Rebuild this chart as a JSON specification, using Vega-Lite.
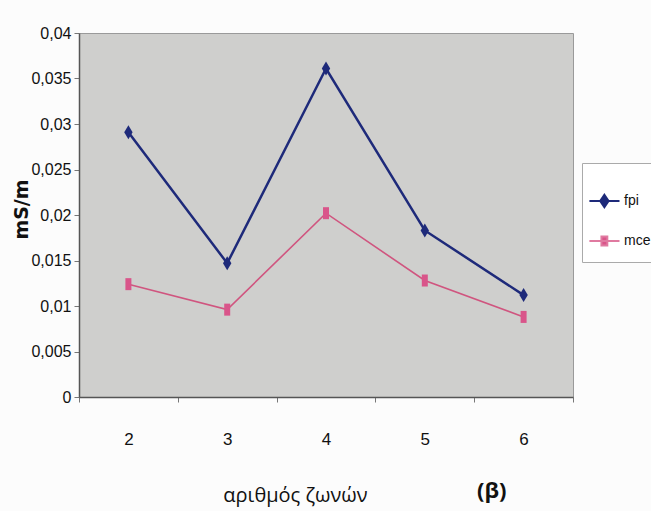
{
  "$schema": "https://vega.github.io/schema/vega-lite/v6.json",
  "width": 494,
  "height": 364,
  "autosize": {"type": "none"},
  "padding": {"left": 79, "top": 33, "right": 78, "bottom": 114},
  "background": "#fcfcfc",
  "title": {
    "text": "(β)",
    "orient": "bottom",
    "anchor": "start",
    "frame": "group",
    "dx": 398,
    "offset": -24,
    "font": "Open Sans",
    "fontSize": 22,
    "fontWeight": "bold",
    "color": "#111"
  },
  "config": {
    "view": {"fill": "#cfcfcd", "stroke": "#9a9a9a", "strokeWidth": 1},
    "axis": {"grid": false}
  },
  "data": {
    "values": [
      {"zones": "2", "series": "fpi", "value": 0.0291},
      {"zones": "3", "series": "fpi", "value": 0.0147},
      {"zones": "4", "series": "fpi", "value": 0.0361},
      {"zones": "5", "series": "fpi", "value": 0.0183},
      {"zones": "6", "series": "fpi", "value": 0.0112},
      {"zones": "2", "series": "mce", "value": 0.0124},
      {"zones": "3", "series": "mce", "value": 0.0096},
      {"zones": "4", "series": "mce", "value": 0.0202},
      {"zones": "5", "series": "mce", "value": 0.0128},
      {"zones": "6", "series": "mce", "value": 0.0088}
    ]
  },
  "encoding": {
    "x": {
      "field": "zones",
      "type": "ordinal",
      "scale": {"type": "band", "paddingInner": 0, "paddingOuter": 0},
      "axis": {
        "title": "αριθμός ζωνών",
        "titleFont": "Open Sans",
        "titleFontSize": 20,
        "titleFontWeight": "normal",
        "titleColor": "#111",
        "titleX": 216,
        "titleY": 104,
        "titleBaseline": "alphabetic",
        "titleAlign": "center",
        "tickBand": "extent",
        "labelAngle": 0,
        "labelFont": "Liberation Sans",
        "labelFontSize": 17,
        "labelColor": "#111",
        "labelPadding": 29,
        "tickSize": 5,
        "tickColor": "#777",
        "domainColor": "#555",
        "domainWidth": 1.5
      }
    },
    "y": {
      "field": "value",
      "type": "quantitative",
      "scale": {"domain": [0, 0.04], "nice": false},
      "axis": {
        "values": [0, 0.005, 0.01, 0.015, 0.02, 0.025, 0.03, 0.035, 0.04],
        "labelExpr": "replace(format(datum.value, '.3~f'), '.', ',')",
        "title": "mS/m",
        "titleFont": "DejaVu Sans",
        "titleFontSize": 19,
        "titleFontWeight": "bold",
        "titleColor": "#111",
        "titleX": -58,
        "titleY": 176,
        "titleAngle": -90,
        "titleAlign": "center",
        "titleBaseline": "middle",
        "labelFont": "Liberation Sans",
        "labelFontSize": 16,
        "labelColor": "#111",
        "labelPadding": 3,
        "tickSize": 5,
        "tickColor": "#777",
        "domainColor": "#555",
        "domainWidth": 1.5
      }
    }
  },
  "layer": [
    {
      "transform": [{"filter": "datum.series === 'fpi'"}],
      "mark": {"type": "line", "color": "#1e2a7a", "strokeWidth": 2.5}
    },
    {
      "transform": [{"filter": "datum.series === 'mce'"}],
      "mark": {"type": "line", "color": "#d0557f", "strokeWidth": 1.6}
    },
    {
      "transform": [{"filter": "datum.series === 'fpi'"}],
      "mark": {"type": "point", "filled": true, "opacity": 1, "color": "#1e2a7a", "shape": "M0,-1L0.6,0L0,1L-0.6,0Z", "size": 196}
    },
    {
      "transform": [{"filter": "datum.series === 'mce'"}],
      "mark": {"type": "point", "filled": true, "opacity": 1, "color": "#d9558a", "shape": "M-0.5,-1H0.5V1H-0.5Z", "size": 144}
    },
    {
      "transform": [{"filter": "false"}],
      "mark": {"type": "point", "filled": true, "opacity": 1, "strokeWidth": 2},
      "encoding": {
        "color": {
          "field": "series",
          "type": "nominal",
          "scale": {"domain": ["fpi", "mce"], "range": ["#1e2a7a", "#d9558a"]},
          "legend": {
            "orient": "none",
            "legendX": 503,
            "legendY": 130,
            "title": " ",
            "titleFontSize": 8,
            "titlePadding": 3,
            "padding": 12,
            "fillColor": "#ffffff",
            "strokeColor": "#aaaaaa",
            "symbolSize": 784,
            "symbolStrokeWidth": 2,
            "rowPadding": 14,
            "labelOffset": 0,
            "labelFont": "Liberation Sans",
            "labelFontSize": 14,
            "labelColor": "#111"
          }
        },
        "stroke": {
          "field": "series",
          "type": "nominal",
          "scale": {"domain": ["fpi", "mce"], "range": ["#1e2a7a", "#e07aa0"]}
        },
        "shape": {
          "field": "series",
          "type": "nominal",
          "scale": {
            "domain": ["fpi", "mce"],
            "range": [
              "M-1.4,0H0.75M-0.33,-0.45L-0.03,0L-0.33,0.45L-0.63,0Z",
              "M-1.4,0H0.75M-0.54,-0.32H-0.12V0.32H-0.54Z"
            ]
          }
        }
      }
    }
  ]
}
